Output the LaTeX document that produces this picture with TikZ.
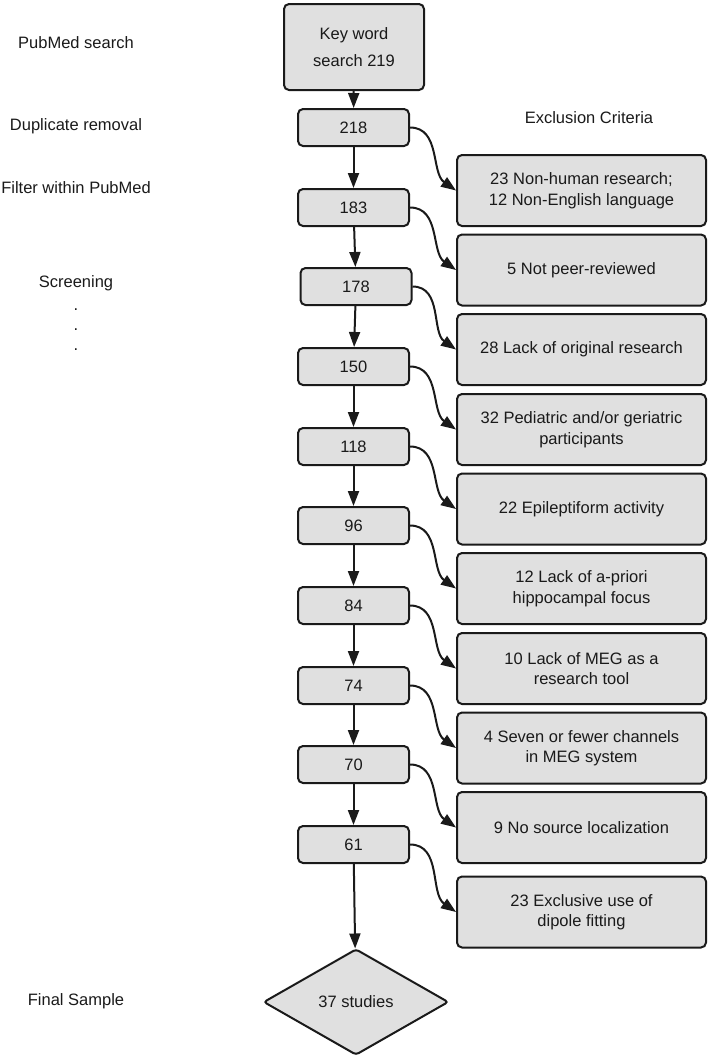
\documentclass[tikz,border=0pt]{standalone}
\usepackage{fontspec}
\setmainfont{Liberation Sans}
\usetikzlibrary{shapes.geometric,arrows.meta}
\definecolor{boxfill}{HTML}{E0E0E0}
\definecolor{ink}{HTML}{1A1A1A}
\newcommand{\fs}{\fontsize{16.5}{20.5}\selectfont}
\begin{document}
\begin{tikzpicture}[x=1pt,y=-1pt,
  box/.style={draw=ink, fill=boxfill, line width=2pt, rounded corners=5pt, text=ink, font=\fs, align=center, inner sep=0pt},
  lbox/.style={box, minimum width=111pt, minimum height=37pt},
  rbox/.style={box, minimum width=249pt, minimum height=71pt},
  lbl/.style={text=ink, font=\fs, inner sep=0pt},
  arr/.style={draw=ink, line width=2pt, -{Triangle[length=15pt,width=11pt]}},
]
\useasboundingbox (0,0) rectangle (709,1058);
% left column
\node[box, minimum width=140pt, minimum height=86pt, font=\fontsize{16.5}{27}\selectfont] (kw) at (354,47) {Key word\\search 219};
\node[lbox] (n218) at (353.5,127.5) {218};
\node[lbox] (n183) at (353.5,207.5) {183};
\node[lbox] (n178) at (356,286.5) {178};
\node[lbox] (n150) at (353.5,366.5) {150};
\node[lbox] (n118) at (353.5,446.5) {118};
\node[lbox] (n96) at (353.5,525.5) {96};
\node[lbox] (n84) at (353.5,605.5) {84};
\node[lbox] (n74) at (353.5,685.5) {74};
\node[lbox] (n70) at (353.5,764.5) {70};
\node[lbox] (n61) at (353.5,844.5) {61};
\node[box, diamond, minimum width=185pt, minimum height=106pt, rounded corners=3pt] (dia) at (356,1002) {37 studies};
% right column
\node[rbox] (ra) at (581.5,190.5) {23 Non-human research;\\12 Non-English language};
\node[rbox] (rb) at (581.5,270) {5 Not peer-reviewed};
\node[rbox] (rc) at (581.5,349.5) {28 Lack of original research};
\node[rbox] (rd) at (581.5,429.5) {32 Pediatric and/or geriatric\\participants};
\node[rbox] (re) at (581.5,509) {22 Epileptiform activity};
\node[rbox] (rf) at (581.5,588.5) {12 Lack of a-priori\\hippocampal focus};
\node[rbox] (rg) at (581.5,668.5) {10 Lack of MEG as a\\research tool};
\node[rbox] (rh) at (581.5,748) {4 Seven or fewer channels\\in MEG system};
\node[rbox] (ri) at (581.5,827.5) {9 No source localization};
\node[rbox] (rj) at (581.5,912) {23 Exclusive use of\\dipole fitting};
% labels
\node[lbl] (l1) at (76,43) {PubMed search};
\node[lbl] (l2) at (76,126) {Duplicate removal};
\node[lbl] (l3) at (76,188) {Filter within PubMed};
\node[lbl] (l4) at (76,283) {Screening};
\node[lbl, anchor=base] (d1) at (76,310) {.};
\node[lbl, anchor=base] (d2) at (76,330) {.};
\node[lbl, anchor=base] (d3) at (76,350) {.};
\node[lbl] (l5) at (76,1001) {Final Sample};
\node[lbl] (ex) at (589,118) {Exclusion Criteria};
% vertical arrows
\draw[arr] (kw) -- (n218);
\draw[arr] (n218) -- (n183);
\draw[arr] (n183) -- (n178);
\draw[arr] (n178) -- (n150);
\draw[arr] (n150) -- (n118);
\draw[arr] (n118) -- (n96);
\draw[arr] (n96) -- (n84);
\draw[arr] (n84) -- (n74);
\draw[arr] (n74) -- (n70);
\draw[arr] (n70) -- (n61);
\draw[arr] (n61) -- (dia);
% curved arrows
\draw[arr] (n218.east) to[out=0,in=145] (ra.west);
\draw[arr] (n183.east) to[out=0,in=145] (rb.west);
\draw[arr] (n178.east) to[out=0,in=145] (rc.west);
\draw[arr] (n150.east) to[out=0,in=145] (rd.west);
\draw[arr] (n118.east) to[out=0,in=145] (re.west);
\draw[arr] (n96.east) to[out=0,in=145] (rf.west);
\draw[arr] (n84.east) to[out=0,in=145] (rg.west);
\draw[arr] (n74.east) to[out=0,in=145] (rh.west);
\draw[arr] (n70.east) to[out=0,in=145] (ri.west);
\draw[arr] (n61.east) to[out=0,in=145] (rj.west);
\end{tikzpicture}
\end{document}
